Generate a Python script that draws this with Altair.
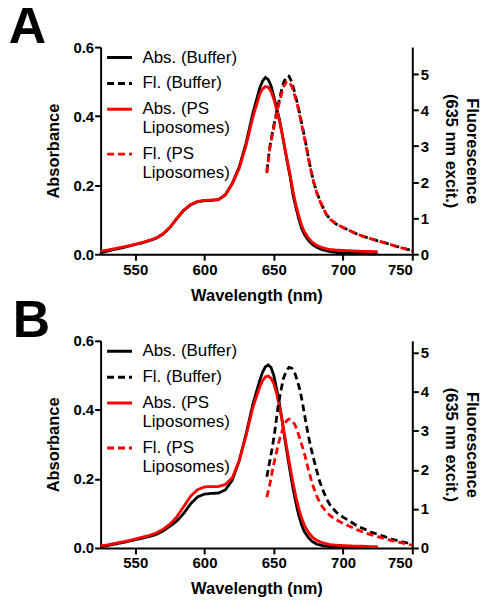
import altair as alt
import pandas as pd

FONT = "Liberation Sans"

SERIES = ["Abs. (Buffer)", "Fl. (Buffer)", "Abs. (PS|Liposomes)", "Fl. (PS|Liposomes)"]
COLORS = ["#000000", "#000000", "#ff0000", "#ff0000"]
DASHES = [[1, 0], [7, 4], [1, 0], [7, 4]]

# ---- wavelength grids ----
abs_nm = [525, 530, 535, 540, 545, 550, 555, 560, 565, 570, 575, 580, 585, 590, 595,
          600, 605, 610, 615, 620, 625, 630, 635, 640, 642, 644, 646, 648, 650, 652,
          654, 656, 658, 660, 662, 664, 666, 668, 670, 672, 675, 678, 681, 685, 690,
          695, 700, 705, 710, 715, 720, 725]
fl_nm = [645, 647, 649, 651, 653, 655, 657, 659, 660, 661, 663, 665, 667, 669, 671,
         673, 675, 677, 679, 681, 683, 685, 688, 691, 695, 700, 705, 710, 715, 720,
         725, 730, 735, 740, 745, 750]

# ---- Panel A ----
a_abs_buffer = [0.004, 0.009, 0.014, 0.018, 0.023, 0.028, 0.033, 0.039, 0.046, 0.058, 0.077,
                0.103, 0.127, 0.143, 0.152, 0.155, 0.156, 0.158, 0.172, 0.205, 0.252, 0.322,
                0.410, 0.483, 0.502, 0.512, 0.506, 0.488, 0.458, 0.425, 0.392, 0.350, 0.305,
                0.262, 0.220, 0.170, 0.135, 0.103, 0.076, 0.058, 0.040, 0.028, 0.020, 0.013,
                0.008, 0.005, 0.004, 0.003, 0.002, 0.002, 0.001, 0.001]
a_abs_ps = [0.009, 0.012, 0.016, 0.020, 0.024, 0.029, 0.034, 0.040, 0.047, 0.059, 0.078,
            0.104, 0.128, 0.144, 0.153, 0.156, 0.157, 0.158, 0.171, 0.203, 0.248, 0.315,
            0.398, 0.465, 0.479, 0.486, 0.484, 0.472, 0.450, 0.420, 0.388, 0.350, 0.308,
            0.266, 0.226, 0.180, 0.143, 0.112, 0.085, 0.066, 0.047, 0.034, 0.026, 0.019,
            0.014, 0.012, 0.011, 0.010, 0.009, 0.008, 0.008, 0.007]
a_fl_buffer = [2.30, 2.95, 3.38, 3.76, 4.12, 4.45, 4.76, 4.92, 4.95, 4.94, 4.78, 4.50, 4.20,
               3.85, 3.48, 3.10, 2.68, 2.30, 1.98, 1.72, 1.52, 1.34, 1.10, 0.96, 0.84, 0.74,
               0.65, 0.56, 0.49, 0.43, 0.37, 0.32, 0.26, 0.20, 0.15, 0.10]
a_fl_ps = [2.25, 2.90, 3.32, 3.70, 4.05, 4.36, 4.64, 4.78, 4.80, 4.79, 4.66, 4.42, 4.15,
           3.80, 3.44, 3.07, 2.66, 2.29, 1.97, 1.71, 1.51, 1.33, 1.10, 0.96, 0.84, 0.74,
           0.65, 0.56, 0.49, 0.43, 0.37, 0.32, 0.26, 0.20, 0.15, 0.10]

# ---- Panel B ----
b_abs_buffer = [0.003, 0.007, 0.011, 0.015, 0.019, 0.024, 0.028, 0.033, 0.039, 0.049, 0.063,
                0.078, 0.100, 0.128, 0.148, 0.156, 0.158, 0.159, 0.168, 0.196, 0.252, 0.330,
                0.418, 0.487, 0.510, 0.525, 0.530, 0.523, 0.500, 0.462, 0.420, 0.370, 0.315,
                0.265, 0.216, 0.170, 0.130, 0.095, 0.068, 0.048, 0.030, 0.018, 0.011, 0.007,
                0.004, 0.003, 0.002, 0.002, 0.001, 0.001, 0.001, 0.001]
b_abs_ps = [0.006, 0.009, 0.013, 0.017, 0.021, 0.026, 0.031, 0.036, 0.043, 0.054, 0.069,
            0.090, 0.120, 0.150, 0.169, 0.177, 0.178, 0.178, 0.184, 0.203, 0.252, 0.325,
            0.408, 0.468, 0.485, 0.496, 0.498, 0.492, 0.476, 0.448, 0.412, 0.370, 0.322,
            0.276, 0.230, 0.187, 0.148, 0.115, 0.088, 0.067, 0.045, 0.031, 0.022, 0.015,
            0.010, 0.008, 0.007, 0.006, 0.005, 0.005, 0.004, 0.004]
b_fl_buffer = [1.82, 2.20, 2.58, 3.05, 3.60, 4.00, 4.34, 4.52, 4.58, 4.62, 4.60, 4.50, 4.28,
               4.03, 3.66, 3.25, 2.86, 2.54, 2.25, 1.98, 1.72, 1.52, 1.26, 1.08, 0.92, 0.79,
               0.68, 0.57, 0.49, 0.41, 0.35, 0.29, 0.23, 0.18, 0.14, 0.10]
b_fl_ps = [1.30, 1.60, 1.98, 2.30, 2.62, 2.88, 3.10, 3.24, 3.28, 3.30, 3.27, 3.17, 3.00,
           2.78, 2.55, 2.30, 2.00, 1.75, 1.52, 1.33, 1.18, 1.06, 0.92, 0.82, 0.72, 0.63,
           0.55, 0.47, 0.40, 0.34, 0.29, 0.24, 0.19, 0.15, 0.11, 0.07]

ABS_TICKS = [0, 0.2, 0.4, 0.6]
FL_TICKS = [0, 1, 2, 3, 4, 5]
X_TICKS = [550, 600, 650, 700, 750]


def long_df(nm, pairs):
    rows = []
    for name, vals in pairs:
        for w, v in zip(nm, vals):
            rows.append({"nm": w, "value": v, "series": name})
    return pd.DataFrame(rows)


def make_legend():
    return alt.Legend(
        title=None, orient="none", legendX=5, legendY=-3.5, padding=0,
        labelExpr="split(datum.label, '|')",
        symbolType="stroke", symbolSize=625, symbolStrokeWidth=3,
        labelFont=FONT, labelFontSize=17, labelColor="black",
        labelOffset=9, rowPadding=4, labelLimit=300,
    )


def panel(letter, abs_b, abs_p, fl_b, fl_p, fl_max, dx):
    abs_df = long_df(abs_nm, [(SERIES[0], abs_b), (SERIES[2], abs_p)])
    fl_df = long_df(fl_nm, [(SERIES[1], fl_b), (SERIES[3], fl_p)])
    x = alt.X("nm:Q", scale=alt.Scale(domain=[525, 750], nice=False, zero=False),
              axis=alt.Axis(values=X_TICKS, title="Wavelength (nm)", labelPadding=2,
                            titlePadding=10))
    color = alt.Color("series:N", scale=alt.Scale(domain=SERIES, range=COLORS), legend=make_legend())
    dash = alt.StrokeDash("series:N", scale=alt.Scale(domain=SERIES, range=DASHES), legend=make_legend())
    abs_layer = alt.Chart(abs_df).mark_line(strokeWidth=2.8).encode(
        x=x,
        y=alt.Y("value:Q", scale=alt.Scale(domain=[0, 0.6], nice=False),
                axis=alt.Axis(values=ABS_TICKS, format=".1f", title="Absorbance", orient="left",
                              labelPadding=1, titlePadding=11)),
        color=color, strokeDash=dash,
    )
    fl_layer = alt.Chart(fl_df).mark_line(strokeWidth=2.8).encode(
        x=x,
        y=alt.Y("value:Q", scale=alt.Scale(domain=[0, fl_max], nice=False),
                axis=alt.Axis(values=FL_TICKS, title=["Fluorescence", "(635 nm excit.)"],
                              orient="right", titleLineHeight=21, titlePadding=14)),
        color=color, strokeDash=dash,
    )
    return alt.layer(abs_layer, fl_layer).resolve_scale(y="independent").properties(
        width=313, height=208,
        title=alt.Title(letter, anchor="start", fontSize=52, font=FONT, fontWeight="bold",
                        color="black", dx=dx, dy=55, baseline="alphabetic", offset=0),
    )


chart = alt.vconcat(
    panel("A", a_abs_buffer, a_abs_ps, a_fl_buffer, a_fl_ps, 5.75, -37.5),
    panel("B", b_abs_buffer, b_abs_ps, b_fl_buffer, b_fl_ps, 5.3, -33.5),
    spacing=-9,
).resolve_scale(color="independent", strokeDash="independent").resolve_legend(
    color="independent", strokeDash="independent"
).properties(
    padding={"left": 0, "top": -8, "right": 4, "bottom": 0}
).configure_axis(
    grid=False, domainColor="black", domainWidth=2, tickColor="black", tickWidth=2,
    tickSize=6, labelFont=FONT, labelFontWeight="bold", labelFontSize=15, labelColor="black",
    labelPadding=2, titleFont=FONT, titleFontWeight="bold", titleFontSize=16.5,
    titleColor="black",
).configure_view(stroke=None)

chart.save("out.html", embed_options={"renderer": "svg", "actions": False})
